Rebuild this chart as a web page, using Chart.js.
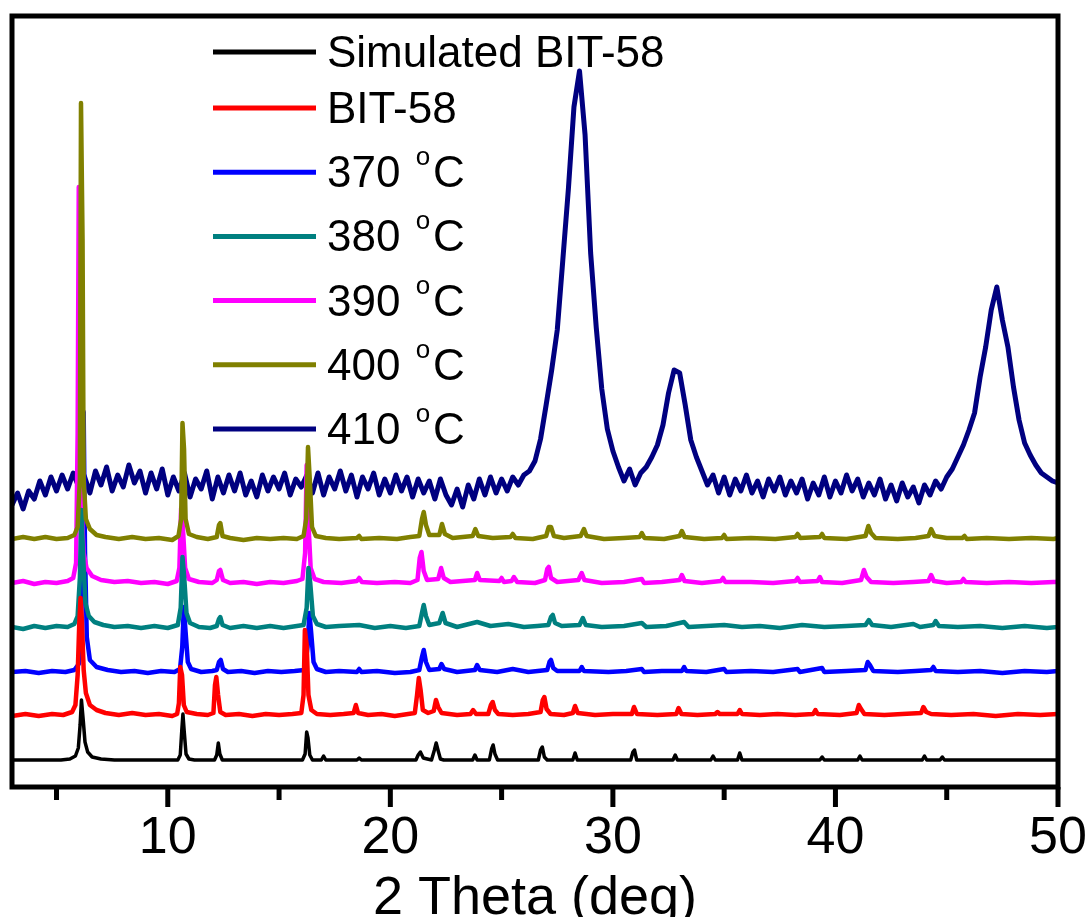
<!DOCTYPE html>
<html lang="en">
<head>
<meta charset="UTF-8">
<title>BIT-58 PXRD</title>
<script src="https://cdn.jsdelivr.net/npm/chart.js@4.4.0/dist/chart.umd.min.js"></script>
<style>
	html, body { margin: 0; padding: 0; overflow: hidden; background: #fff; }
	#wrap { width: 1089px; height: 940px; }
</style>
</head>
<body>
<div id="wrap"><canvas id="xrd"></canvas></div>
<script>
	// legend text and colours, in legend order
	const seriesLabels = ['Simulated BIT-58', 'BIT-58', '370 °C', '380 °C', '390 °C', '400 °C', '410 °C'];
	const seriesColors = ['#000000', '#ff0000', '#0000ff', '#008080', '#ff00ff', '#808000', '#000080'];
	// vertical offset of each pattern (stacked plot, a.u.)
	const offsets = [0, 45, 88, 132, 177, 221, 275];
	const xTickValues = [5, 10, 15, 20, 25, 30, 35, 40, 45, 50];

	// [2theta, intensity]
	const sim = [[3,0],[5.2,0],[5.6,1],[5.85,4],[5.98,12],[6.06,35],[6.12,60],[6.2,40],[6.28,18],[6.4,8],[6.6,3],[7.0,1],[7.6,0],
		[10.45,0],[10.56,5],[10.63,30],[10.68,46],[10.74,28],[10.82,6],[10.95,1],[11.2,0],
		[12.1,0],[12.2,5],[12.27,17],[12.34,6],[12.45,0],
		[16.05,0],[16.17,6],[16.24,28],[16.3,22],[16.38,5],[16.5,0],[16.9,0],[17.0,4],[17.1,0],[18.5,0],[18.6,2],[18.7,0],
		[21.15,0],[21.25,5],[21.35,8],[21.48,2],[21.85,0],[21.98,10],[22.06,17],[22.14,10],[22.25,1],[22.4,0],
		[23.7,0],[23.8,5],[23.9,0],[24.45,0],[24.55,11],[24.62,15],[24.7,6],[24.82,0],
		[26.65,0],[26.75,10],[26.83,13],[26.92,3],[27.05,0],[28.2,0],[28.3,7],[28.4,0],
		[30.8,0],[30.9,8],[30.97,10],[31.07,0],[32.7,0],[32.8,5],[32.9,0],[34.4,0],[34.5,4],[34.6,0],
		[35.6,0],[35.7,7],[35.8,0],[39.3,0],[39.4,3],[39.5,0],[41.0,0],[41.1,4],[41.2,0],
		[43.9,0],[44.0,4],[44.1,0],[44.7,0],[44.8,3],[44.9,0],[50,0]];

	const bit58 = [[3,-1],[3.6,1],[4.2,-1],[4.8,1],[5.3,0],[5.7,3],[5.85,10],[5.95,40],[6.02,90],[6.08,117],[6.14,95],[6.22,45],[6.32,22],[6.5,10],[6.8,5],[7.2,2],[7.8,0],[8.4,2],[9.0,0],[9.6,1],[10.2,-1],
		[10.42,1],[10.5,12],[10.56,48],[10.64,40],[10.72,10],[10.85,3],[11.3,1],[11.8,0],
		[12.05,2],[12.12,30],[12.18,38],[12.26,20],[12.36,3],[12.6,0],[13.2,1],[13.8,-1],[14.4,1],[15.0,0],[15.6,1],
		[16.0,2],[16.1,20],[16.16,85],[16.24,70],[16.32,20],[16.45,5],[16.7,1],[17.3,0],
		[17.9,1],[18.35,2],[18.45,10],[18.55,2],[19.0,0],[19.6,1],[20.2,-1],[20.8,1],
		[21.1,2],[21.2,20],[21.28,37],[21.36,25],[21.46,5],[21.7,2],[21.95,4],[22.05,15],[22.15,8],[22.3,2],
		[23.0,0],[23.6,1],[23.72,5],[23.85,1],[24.4,1],[24.52,10],[24.6,13],[24.7,5],[24.85,1],[25.5,0],[26.2,1],
		[26.75,3],[26.85,15],[26.92,18],[27.02,6],[27.2,1],[27.8,0],[28.2,2],[28.3,9],[28.42,2],[29.2,0],[30.0,1],
		[30.85,1],[30.95,8],[31.08,1],[32.0,0],[32.85,1],[32.95,7],[33.08,1],[33.8,0],[34.6,1],[34.7,3],[34.8,1],
		[35.6,1],[35.7,5],[35.8,1],[36.6,0],[37.4,1],[38.2,0],[39.0,1],[39.1,5],[39.2,1],[40.2,0],
		[40.95,2],[41.05,10],[41.15,6],[41.3,1],[42.2,0],[43.0,1],[43.85,2],[43.95,8],[44.08,3],[44.3,1],[45.2,0],[46.2,1],[47.2,-1],[48.2,1],[49.2,0],[50,1]];

	const t370 = [[3,0],[3.6,1],[4.2,-1],[4.8,1],[5.4,0],[5.8,2],[6.0,8],[6.1,30],[6.17,150],[6.22,260],[6.28,120],[6.36,35],[6.5,12],[6.8,5],[7.3,2],[7.9,0],[8.5,1],[9.1,-1],[9.7,1],[10.3,0],
		[10.55,3],[10.65,25],[10.72,65],[10.8,40],[10.9,10],[11.05,3],[11.5,0],[12.0,1],
		[12.2,2],[12.3,10],[12.38,12],[12.48,3],[12.7,0],[13.3,1],[13.9,-1],[14.5,1],[15.1,0],[15.7,1],
		[16.15,2],[16.28,25],[16.36,59],[16.44,40],[16.55,10],[16.7,3],[17.1,0],[17.7,1],[18.5,0],[18.6,3],[18.7,0],[19.4,1],[20.2,-1],[20.9,0],
		[21.3,2],[21.42,15],[21.5,22],[21.6,10],[21.75,2],[22.2,3],[22.3,8],[22.42,3],[23.0,0],[23.8,2],[23.9,7],[24.02,2],[24.8,0],[25.5,3],[26.2,0],
		[27.05,2],[27.15,10],[27.22,12],[27.32,4],[27.5,1],[28.5,1],[28.6,5],[28.7,1],[29.8,0],[30.6,1],[31.3,3],[31.4,0],[32.2,1],[33.1,1],[33.2,5],[33.3,1],
		[34.2,0],[35.0,3],[35.1,0],[36.2,1],[37.2,0],[38.3,3],[38.4,0],[39.4,4],[39.5,0],[40.5,1],
		[41.35,2],[41.45,10],[41.55,7],[41.7,1],[42.8,0],[43.6,1],[44.3,2],[44.4,5],[44.5,1],[45.5,0],[46.5,1],[47.5,-1],[48.5,1],[49.5,0],[50,1]];

	const t380 = [[3,1],[3.5,-1],[4.0,2],[4.5,0],[5.0,2],[5.5,1],[5.8,4],[5.95,12],[6.05,50],[6.12,118],[6.2,70],[6.3,25],[6.45,12],[6.7,6],[7.1,3],[7.6,1],[8.2,2],[8.8,0],[9.4,2],[10.0,0],
		[10.45,3],[10.58,20],[10.66,71],[10.74,50],[10.84,15],[11.0,5],[11.4,1],[11.9,0],
		[12.2,2],[12.3,9],[12.36,11],[12.46,3],[12.8,0],[13.4,2],[14.0,0],[14.6,2],[15.2,0],[15.8,2],
		[16.1,3],[16.24,20],[16.32,60],[16.4,45],[16.52,12],[16.7,4],[17.1,1],[17.7,2],[18.6,3],[19.3,0],[20.0,2],[20.7,0],
		[21.3,2],[21.42,15],[21.5,23],[21.6,12],[21.75,3],[22.2,5],[22.35,15],[22.48,5],[23.0,1],[23.9,6],[24.5,2],[25.3,4],[26.0,1],[26.6,2],
		[27.1,3],[27.22,11],[27.3,13],[27.4,5],[27.7,2],[28.5,3],[28.65,10],[28.78,3],[29.5,1],[30.5,2],[31.3,5],[31.5,1],[32.4,2],[33.2,6],[33.4,1],
		[34.2,2],[35.0,3],[35.8,1],[36.6,2],[37.5,0],[38.5,3],[39.5,1],[40.5,2],
		[41.35,3],[41.5,8],[41.65,3],[42.5,1],[43.5,4],[43.8,1],[44.4,3],[44.5,7],[44.65,2],[45.5,1],[46.5,2],[47.5,0],[48.5,2],[49.5,0],[50,1]];

	const t390 = [[3,0],[3.5,2],[4.0,-1],[4.5,1],[5.0,0],[5.5,2],[5.75,5],[5.88,20],[5.95,150],[6.0,396],[6.06,250],[6.12,80],[6.22,30],[6.35,15],[6.6,7],[7.0,3],[7.6,1],[8.2,2],[8.8,0],[9.4,1],[10.0,-1],
		[10.4,2],[10.52,15],[10.6,75],[10.68,55],[10.78,15],[10.95,4],[11.4,1],[12.0,0],
		[12.2,3],[12.3,12],[12.36,13],[12.48,3],[12.8,0],[13.4,1],[14.0,-1],[14.6,1],[15.2,0],[15.8,2],
		[16.05,4],[16.17,30],[16.24,118],[16.32,60],[16.42,15],[16.6,4],[17.0,1],[17.8,0],[18.5,2],[18.6,5],[18.72,1],[19.4,0],[20.2,1],[20.9,0],
		[21.22,3],[21.32,25],[21.4,31],[21.5,12],[21.65,3],[22.15,4],[22.28,15],[22.4,5],[22.7,1],[23.8,3],[23.9,10],[24.02,3],[24.9,2],[25.0,5],[25.1,1],[25.45,2],[25.55,6],[25.7,1],[26.5,0],
		[26.95,3],[27.05,14],[27.12,16],[27.22,5],[27.5,1],[28.45,3],[28.6,10],[28.72,3],[29.5,0],[30.5,1],[31.3,4],[31.4,0],[32.2,1],[33.0,3],[33.1,8],[33.22,2],[34.0,0],
		[34.85,2],[34.95,5],[35.05,1],[36.2,1],[37.2,0],[38.2,2],[38.3,5],[38.4,1],[39.2,2],[39.3,6],[39.4,1],[40.3,0],
		[41.15,3],[41.28,13],[41.4,6],[41.6,1],[42.6,0],[43.5,1],[44.18,2],[44.3,8],[44.42,2],[45.0,0],[45.65,1],[45.75,4],[45.85,1],[46.8,0],[47.8,1],[48.8,0],[49.8,1],[50,1]];

	const t400 = [[3,0],[3.5,2],[4.0,0],[4.5,2],[5.0,0],[5.5,1],[5.8,4],[5.95,12],[6.05,60],[6.1,436],[6.17,300],[6.22,60],[6.32,20],[6.5,10],[6.8,4],[7.2,2],[7.8,0],[8.4,2],[9.0,0],[9.6,1],[10.2,-1],
		[10.48,3],[10.6,20],[10.66,116],[10.73,90],[10.8,20],[10.95,5],[11.3,2],[11.8,0],
		[12.2,2],[12.3,14],[12.36,16],[12.46,3],[12.8,1],[13.4,-1],[14.0,1],[14.6,0],[15.2,1],[15.8,0],
		[16.1,3],[16.22,20],[16.3,92],[16.38,60],[16.48,12],[16.65,3],[17.1,1],[17.7,0],[18.5,1],[18.6,3],[18.7,0],[19.5,1],[20.3,0],[20.9,2],
		[21.3,3],[21.42,20],[21.5,27],[21.6,14],[21.75,4],[22.2,4],[22.32,15],[22.45,5],[22.8,1],[23.7,3],[23.82,10],[23.95,3],[24.6,1],[25.4,2],[25.5,5],[25.62,1],[26.4,0],
		[27.0,3],[27.12,12],[27.22,12],[27.35,3],[27.8,1],[28.55,3],[28.7,10],[28.82,3],[29.6,0],[30.5,1],[31.2,2],[31.3,6],[31.42,1],[32.3,0],[33.0,3],[33.1,8],[33.22,2],[34.1,0],
		[34.9,1],[35.0,4],[35.1,0],[36.2,1],[37.3,0],[38.2,2],[38.3,5],[38.42,1],[39.3,2],[39.4,5],[39.5,1],[40.5,0],
		[41.35,3],[41.48,13],[41.6,6],[41.8,1],[42.8,0],[43.6,1],[44.18,3],[44.3,10],[44.45,3],[45.0,1],[45.7,1],[45.8,3],[45.9,0],[46.8,1],[47.8,0],[48.8,1],[49.8,0],[50,1]];

	// 410 °C scan: fixed step from 3.00 to 50.00 deg, one row per degree
	const scan410Start = 3, scan410Step = 0.25;
	const t410 = [
		-20, -8, -24, -6,   -14, 4, -10, 8,    -6, 10, -4, 12,    -2, 9, -8, 14,
		0, 18, -6, 10,      -2, 20, 2, 14,     -8, 12, -4, 16,    -10, 8, -6, 12,
		-12, 6, -4, 14,     -14, 8, -8, 10,    -6, 12, -10, 4,    -12, 10, -6, 8,
		-4, 12, -10, 6,     -2, 10, -8, 12,    -10, 8, -4, 14,    -6, 10, -12, 8,
		-4, 12, -10, 6,     -8, 10, -6, 8,     -12, 6, -8, 4,     -14, 6, -10, -20,
		-4, -22, 0, -14,    6, -10, 8, -8,     6, -6, 8, 0,       10, 14, 24, 46,
		80, 115, 155, 225,  296, 378, 414, 350, 232, 158, 96, 56, 34, 18, 4, 16,
		0, 12, 18, 28,      40, 60, 92, 115,   112, 80, 45, 28,   14, 0, 10, -8,
		8, -10, 6, -6,      10, -8, 4, -12,    6, -6, 8, -10,     4, -8, 6, -14,
		2, -10, 8, -12,     4, -8, 10, -6,     6, -12, 2, -10,    6, -14, 0, -16,
		2, -12, -2, -18,    0, -10, 4, -4,     8, 16, 28, 40,     55, 72, 108, 138,
		175, 198, 165, 138, 98, 65, 42, 30,    20, 12, 8, 4,      2];

	const series = [sim, bit58, t370, t380, t390, t400,
		t410.map((v, i) => [scan410Start + i * scan410Step, v])];

	// lower order is drawn on top
	const drawOrder = [1, 2, 5, 3, 4, 0, 6];
	const lineWidths = [3.5, 4.5, 4.5, 4.5, 4.5, 4.5, 5];

	const datasets = series.map((pts, i) => ({
		label: seriesLabels[i],
		data: pts.map(p => ({ x: p[0], y: p[1] + offsets[i] })),
		borderColor: seriesColors[i],
		borderWidth: lineWidths[i],
		borderJoinStyle: 'round',
		pointRadius: 0,
		tension: 0,
		order: drawOrder[i]
	}));

	const FONT = '"Liberation Sans", Arial, sans-serif';

	// box round the plot plus major/minor ticks on the bottom axis
	const frameTicks = {
		id: 'frameTicks',
		afterDraw(chart) {
			const { ctx, chartArea: a } = chart;
			const x = chart.scales.x;
			ctx.save();
			ctx.strokeStyle = '#000';
			ctx.lineWidth = 5;
			ctx.strokeRect(a.left, a.top, a.right - a.left, a.bottom - a.top);
			ctx.beginPath();
			x.ticks.forEach(t => {
				const px = x.getPixelForValue(t.value);
				ctx.moveTo(px, a.bottom);
				ctx.lineTo(px, a.bottom + (t.value % 10 === 0 ? 20 : 13));
			});
			ctx.stroke();
			ctx.restore();
		}
	};

	// legend inside the plot
	const insideLegend = {
		id: 'insideLegend',
		afterDraw(chart) {
			const ctx = chart.ctx;
			ctx.save();
			seriesLabels.forEach((label, i) => {
				const y = i === 0 ? 52 : 108 + (i - 1) * 64.2;
				ctx.strokeStyle = seriesColors[i];
				ctx.lineWidth = 5;
				ctx.beginPath();
				ctx.moveTo(213, y);
				ctx.lineTo(316, y);
				ctx.stroke();

				ctx.fillStyle = '#000';
				ctx.textBaseline = 'alphabetic';
				ctx.font = '44px ' + FONT;
				const base = y + 15;
				const parts = label.split('°');
				let tx = 327;
				ctx.fillText(parts[0], tx, base);
				if (parts.length > 1) {
					tx += ctx.measureText(parts[0]).width + 3;
					ctx.font = '26px ' + FONT;
					ctx.fillText('o', tx, base - 22);
					tx += ctx.measureText('o').width + 3;
					ctx.font = '44px ' + FONT;
					ctx.fillText(parts[1], tx, base);
				}
			});
			ctx.restore();
		}
	};

	new Chart(document.getElementById('xrd'), {
		type: 'line',
		data: { datasets: datasets },
		options: {
			responsive: true,
			maintainAspectRatio: false,
			animation: false,
			layout: { padding: { left: 12, right: 31, top: 16, bottom: 0 } },
			plugins: { legend: { display: false }, tooltip: { enabled: false } },
			scales: {
				x: {
					type: 'linear',
					min: 3,
					max: 50,
					afterBuildTicks(scale) {
						scale.ticks = xTickValues.map(v => ({ value: v }));
					},
					afterFit(scale) {
						scale.height = 153;
					},
					grid: { display: false, drawTicks: true, tickLength: 20 },
					border: { display: false },
					ticks: {
						autoSkip: false,
						maxRotation: 0,
						padding: 0,
						color: '#000',
						font: { family: FONT, size: 52 },
						callback: v => (v % 10 === 0 ? String(v) : '')
					},
					title: {
						display: true,
						text: '2 Theta (deg)',
						color: '#000',
						font: { family: FONT, size: 54 },
						padding: { top: 0, bottom: 8 }
					}
				},
				y: {
					display: false,
					min: -27,
					max: 744
				}
			}
		},
		plugins: [frameTicks, insideLegend]
	});
</script>
</body>
</html>
